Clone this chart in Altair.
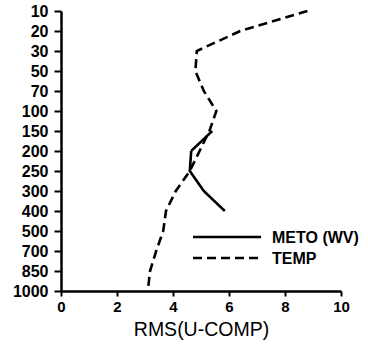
import altair as alt
import pandas as pd

levels = [10, 20, 30, 50, 70, 100, 150, 200, 250, 300, 400, 500, 700, 850, 1000]
temp_rms = [8.8, 6.4, 4.85, 4.8, 5.1, 5.55, 5.3, 4.95, 4.6, 4.1, 3.75, 3.65, 3.4, 3.18, 3.1]
meto_levels = [150, 200, 250, 300, 400]
meto_rms = [5.4, 4.65, 4.6, 5.1, 5.85]
series = ["METO (WV)", "TEMP"]
x_ticks = [0, 2, 4, 6, 8, 10]

rows = []
for i, (p, v) in enumerate(zip(meto_levels, meto_rms)):
    rows.append({"series": series[0], "p": p, "rms": v, "idx": i})
for i, (p, v) in enumerate(zip(levels, temp_rms)):
    rows.append({"series": series[1], "p": p, "rms": v, "idx": i})
df = pd.DataFrame(rows)

font = "Liberation Sans"
dash_scale = alt.Scale(domain=series, range=[[1, 0], [9, 5]])

lines = alt.Chart(df).mark_line(color="black", strokeWidth=2.6).encode(
    x=alt.X("rms:Q", scale=alt.Scale(domain=[0, 10], nice=False),
            axis=alt.Axis(values=x_ticks, title="RMS(U-COMP)", grid=False,
                          tickSize=5, labelPadding=3, titlePadding=6, labelFlush=False,
                          labelFontSize=15, labelFontWeight="bold",
                          titleFontSize=19.5, titleFontWeight="normal")),
    y=alt.Y("p:O", sort=levels, scale=alt.Scale(domain=levels, padding=0),
            axis=alt.Axis(title=None, grid=False, tickSize=7, labelPadding=6,
                          labelFontSize=16, labelFontWeight="bold")),
    strokeDash=alt.StrokeDash("series:N", scale=dash_scale, legend=None),
    order="idx:Q",
)

leg_df = pd.DataFrame({"series": series, "row": [0, 1]})
leg_scale = alt.Scale(domain=[0, 1], range=[226, 247])
leg_rule = alt.Chart(leg_df).mark_rule(color="black", strokeWidth=2.5).encode(
    x=alt.value(132), x2=alt.value(200),
    y=alt.Y("row:Q", scale=leg_scale, axis=None),
    strokeDash=alt.StrokeDash("series:N", scale=dash_scale, legend=None),
)
leg_text = alt.Chart(leg_df).mark_text(
    align="left", baseline="middle", font=font, fontSize=16, fontWeight="bold",
    color="black", dy=1,
).encode(
    x=alt.value(211),
    y=alt.Y("row:Q", scale=leg_scale, axis=None),
    text="series:N",
)

legend = alt.layer(leg_rule, leg_text)

chart = alt.layer(lines, legend).resolve_scale(y="independent").properties(
    width=280, height=280,
    autosize=alt.AutoSizeParams(type="none"),
    padding={"left": 61, "top": 11, "right": 27, "bottom": 57},
).configure_view(stroke=None).configure_axis(
    domainColor="black", domainWidth=2.5, tickColor="black", tickWidth=2,
    labelColor="black", titleColor="black", labelFont=font, titleFont=font,
)

chart.save("out.html", embed_options={"renderer": "svg", "actions": False})
